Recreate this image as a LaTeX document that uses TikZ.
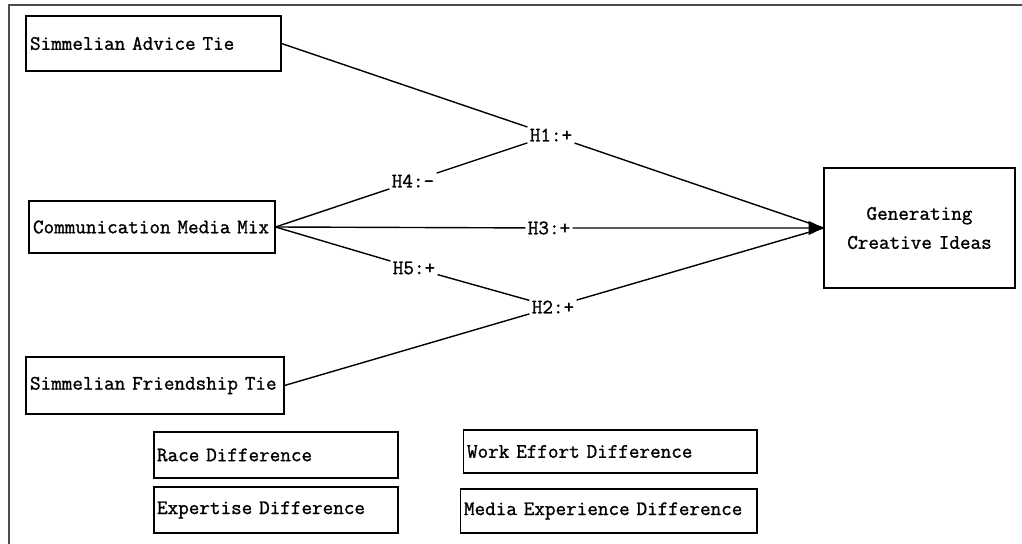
\documentclass[tikz,border=0pt]{standalone}
\usepackage{fontspec}
\newfontfamily\boxfont{Latin Modern Mono}[FakeBold=1.2]
\usetikzlibrary{arrows.meta}
\begin{document}
\begin{tikzpicture}[x=0.02cm, y=-0.02cm, line width=0.8pt,
  box/.style = {draw, line width=0.6pt, inner xsep=0.08cm, inner ysep=0pt, align=left,
    font=\boxfont\fontsize{11.7}{16.5}\selectfont},
  hlab/.style = {inner sep=1pt, font=\boxfont\fontsize{11.7}{13}\selectfont}]
\useasboundingbox (0,0) rectangle (1022,544);
\draw[line width=0.7pt, black!70] (9,544) -- (9,5) -- (1022,5);
\node[box, text width=4.94cm, minimum height=1.10cm] (adv) at (153.5,43.5) {Simmelian Advice Tie};
\node[box, text width=4.76cm, minimum height=1.04cm] (com) at (152,227) {Communication Media Mix};
\node[box, text width=5.00cm, minimum height=1.14cm] (fri) at (155,385.5) {Simmelian Friendship Tie};
\node[box, text width=3.66cm, minimum height=2.40cm, align=center] (gen) at (919.5,228) {Generating\\Creative Ideas};
\node[box, text width=4.76cm, minimum height=0.92cm, inner xsep=0.06cm] (race) at (276,455) {Race Difference};
\node[box, text width=4.76cm, minimum height=0.92cm, inner xsep=0.06cm] (exp) at (276,510) {Expertise Difference};
\node[box, text width=5.72cm, minimum height=0.86cm] (work) at (610,451.5) {Work Effort Difference};
\node[box, text width=5.78cm, minimum height=0.88cm] (med) at (608.5,511) {Media Experience Difference};
\node[hlab] (h1) at (551,135) {H1:+};
\node[hlab] (h4) at (413,181) {H4:-};
\node[hlab] (h3) at (549,228) {H3:+};
\node[hlab] (h5) at (414,268) {H5:+};
\node[hlab] (h2) at (553,307) {H2:+};
\draw (adv.east) -- (h1) -- (gen.west);
\draw (com.east) -- (h4) -- (h1);
\draw[-{Triangle[length=3mm,width=2.8mm]}] (com.east) -- (h3) -- (gen.west);
\draw (com.east) -- (h5) -- (h2) -- (gen.west);
\draw (fri.east) -- (h2);
\end{tikzpicture}
\end{document}
